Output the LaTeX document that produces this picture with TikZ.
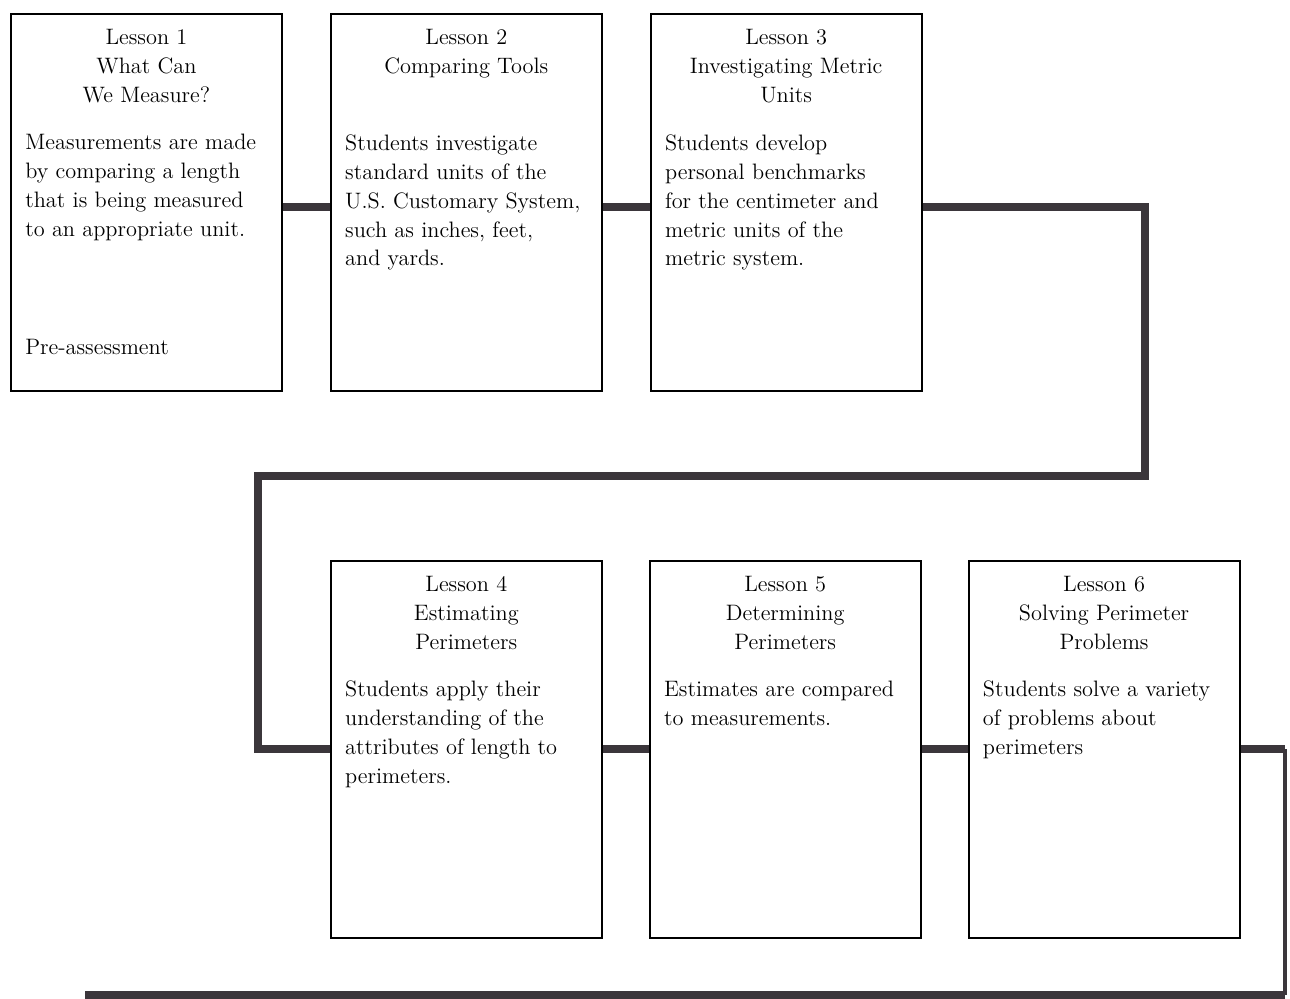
\documentclass[tikz,border=0pt]{standalone}
\usepackage{fontspec}
\usetikzlibrary{positioning}
\definecolor{pipegray}{rgb}{0.23,0.21,0.23}

\begin{document}
\begin{tikzpicture}[x=0.02cm,y=-0.02cm]
\tikzstyle{lessonbox}=[draw=black,line width=1.1pt,minimum width=5.42cm,minimum height=7.54cm,inner sep=0pt]
\tikzstyle{title}=[align=center,inner sep=0pt,font=\fontsize{12.7}{16.5}\selectfont]
\tikzstyle{body}=[align=left,inner sep=0pt,font=\fontsize{12.7}{16.5}\selectfont]
\tikzstyle{pipe}=[draw=pipegray,line width=4.6pt]
\useasboundingbox (0,0) rectangle (1290,999);
% top row
\node [lessonbox,anchor=north west] at (10,13) (l1) {};
\node [lessonbox,right=0.94cm of l1] (l2) {};
\node [lessonbox,right=0.94cm of l2] (l3) {};
% bottom row
\node [lessonbox,below=3.36cm of l2] (l4) {};
\node [lessonbox,right=0.92cm of l4] (l5) {};
\node [lessonbox,right=0.92cm of l5] (l6) {};
% titles
\node [title,below=0.32cm of l1.north] (t1) {Lesson 1\\What Can\\We Measure?};
\node [title,below=0.32cm of l2.north] (t2) {Lesson 2\\Comparing Tools};
\node [title,below=0.32cm of l3.north] (t3) {Lesson 3\\Investigating Metric\\Units};
\node [title,below=0.32cm of l4.north] (t4) {Lesson 4\\Estimating\\Perimeters};
\node [title,below=0.32cm of l5.north] (t5) {Lesson 5\\Determining\\Perimeters};
\node [title,below=0.32cm of l6.north] (t6) {Lesson 6\\Solving Perimeter\\Problems};
% texts
\node [body,below right=2.42cm and 0.3cm of l1.north west] (b1) {Measurements are made\\by comparing a length\\that is being measured\\to an appropriate unit.};
\node [body,above right=0.74cm and 0.3cm of l1.south west] (p1) {Pre-assessment};
\node [body,below right=2.42cm and 0.3cm of l2.north west] (b2) {Students investigate\\standard units of the\\U.S. Customary System,\\such as inches, feet,\\and yards.};
\node [body,below right=2.42cm and 0.3cm of l3.north west] (b3) {Students develop\\personal benchmarks\\for the centimeter and\\metric units of the\\metric system.};
\node [body,below right=2.42cm and 0.3cm of l4.north west] (b4) {Students apply their\\understanding of the\\attributes of length to\\perimeters.};
\node [body,below right=2.42cm and 0.3cm of l5.north west] (b5) {Estimates are compared\\to measurements.};
\node [body,below right=2.42cm and 0.3cm of l6.north west] (b6) {Students solve a variety\\of problems about\\perimeters};
% connectors
\coordinate (rturn) at (1145,476);
\coordinate (lturn) at (258,476);
\coordinate (rdown) at (1285,995);
\coordinate (lend) at (85,995);
\coordinate (rtop) at (l6.east -| rdown);
\draw [pipe] ([yshift=-0.1cm]l1.east) -- ([yshift=-0.1cm]l2.west);
\draw [pipe] ([yshift=-0.1cm]l2.east) -- ([yshift=-0.1cm]l3.west);
\draw [pipe] ([yshift=-0.1cm]l3.east) -| (rturn) -- (lturn) |- (l4.west);
\draw [pipe] (l4.east) -- (l5.west);
\draw [pipe] (l5.east) -- (l6.west);
\draw [pipe] (l6.east) -- (rtop);
\draw [pipe,line width=1.8pt] (rtop) -- (rdown);
\draw [pipe] (rdown) -- (lend);
\end{tikzpicture}
\end{document}
